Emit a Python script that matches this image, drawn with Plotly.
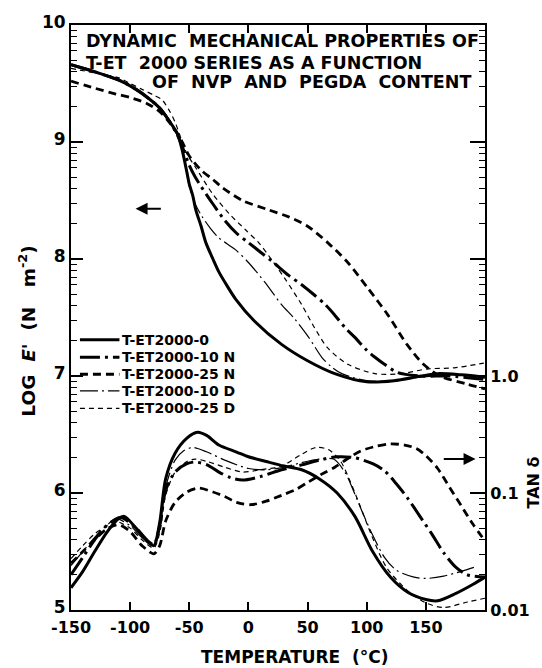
import math
import plotly.graph_objects as go

# ---------------- data ----------------
series_names = ["T-ET2000-0", "T-ET2000-10 N", "T-ET2000-25 N", "T-ET2000-10 D", "T-ET2000-25 D"]

# log E' (N m^-2) vs temperature (deg C)
e_t_0 = [-150, -130, -110, -95, -84, -75, -67, -60, -56, -52, -50, -47, -44.5, -40, -36, -30, -25, -18, -11, 5, 28, 50, 73, 100, 123, 146, 160, 180, 200]
e_v_0 = [9.66, 9.60, 9.53, 9.45, 9.37, 9.29, 9.18, 9.07, 8.93, 8.74, 8.64, 8.54, 8.42, 8.28, 8.14, 8.00, 7.89, 7.77, 7.66, 7.47, 7.27, 7.13, 7.02, 6.95, 6.96, 7.00, 7.02, 7.01, 6.99]

e_t_10n = [-150, -130, -110, -95, -84, -75, -67, -60, -57, -50, -45, -40, -30, -20, -10, 0, 10, 20, 34, 45, 56, 65, 73, 82, 90, 100, 107, 115, 126, 146, 170, 200]
e_v_10n = [9.66, 9.60, 9.53, 9.45, 9.37, 9.29, 9.18, 9.06, 8.99, 8.80, 8.70, 8.62, 8.47, 8.33, 8.22, 8.14, 8.06, 7.98, 7.86, 7.78, 7.69, 7.61, 7.52, 7.41, 7.33, 7.22, 7.16, 7.10, 7.03, 7.00, 7.00, 6.97]

e_t_25n = [-150, -130, -112, -100, -86, -75, -67, -60, -56, -50, -39, -30, -22, -5, 17, 34, 50, 67, 84, 101, 118, 134, 148, 162, 185, 200]
e_v_25n = [9.52, 9.46, 9.41, 9.38, 9.33, 9.26, 9.17, 9.07, 9.00, 8.88, 8.75, 8.68, 8.61, 8.50, 8.42, 8.36, 8.28, 8.14, 7.97, 7.75, 7.52, 7.27, 7.10, 7.00, 6.93, 6.89]

e_t_10d = [-150, -130, -110, -95, -84, -75, -67, -60, -57, -55, -50, -45, -39, -32, -25, -11, 0, 14, 28, 39, 51, 62, 70, 79, 100, 123, 146, 170, 200]
e_v_10d = [9.66, 9.60, 9.53, 9.45, 9.37, 9.29, 9.18, 9.06, 8.99, 8.90, 8.62, 8.47, 8.36, 8.26, 8.18, 8.08, 7.97, 7.80, 7.61, 7.49, 7.33, 7.16, 7.08, 7.02, 6.96, 6.96, 6.99, 7.01, 7.00]

e_t_25d = [-150, -130, -110, -100, -90, -80, -73, -67, -62, -57, -52, -44.5, -30.5, -16.5, -2.5, 8.6, 17, 31, 45, 56, 67, 84, 107, 129, 151, 174, 199]
e_v_25d = [9.63, 9.59, 9.55, 9.50, 9.45, 9.40, 9.36, 9.27, 9.17, 9.03, 8.90, 8.78, 8.56, 8.39, 8.25, 8.14, 8.03, 7.83, 7.61, 7.41, 7.24, 7.10, 7.02, 7.02, 7.06, 7.07, 7.11]

# tan delta vs temperature (deg C)
d_t_0 = [-150, -140, -130, -120, -110, -105, -95, -85, -80, -75, -70, -62, -52, -43, -35, -25, -10, 0, 15, 30, 45, 60, 75, 90, 105, 120, 135, 150, 160, 175, 190, 200]
d_v_0 = [0.0155, 0.0214, 0.0316, 0.0457, 0.0603, 0.0631, 0.0501, 0.0380, 0.0355, 0.0562, 0.132, 0.219, 0.295, 0.331, 0.309, 0.257, 0.224, 0.204, 0.186, 0.170, 0.158, 0.132, 0.100, 0.0631, 0.0316, 0.0191, 0.0141, 0.0123, 0.0120, 0.0138, 0.0166, 0.0191]

d_t_10n = [-150, -140, -130, -120, -108, -95, -85, -80, -75, -70, -62, -52, -45, -35, -25, -15, -5, 10, 28, 45, 60, 75, 90, 105, 115, 125, 135, 145, 155, 165, 175, 185, 200]
d_v_10n = [0.0200, 0.0282, 0.0398, 0.0525, 0.0617, 0.0501, 0.0389, 0.0363, 0.0525, 0.105, 0.151, 0.178, 0.184, 0.174, 0.151, 0.135, 0.129, 0.138, 0.158, 0.174, 0.191, 0.204, 0.200, 0.178, 0.155, 0.120, 0.0891, 0.0631, 0.0447, 0.0309, 0.0234, 0.0200, 0.0191]

d_t_25n = [-150, -140, -130, -120, -110, -100, -90, -80, -75, -70, -62, -52, -42, -30, -20, -10, 2, 15, 28, 40, 50, 62, 73, 85, 95, 108, 120, 132, 142, 150, 160, 170, 180, 190, 200]
d_v_25n = [0.0251, 0.0316, 0.0398, 0.0490, 0.0537, 0.0468, 0.0355, 0.0302, 0.0355, 0.0575, 0.0832, 0.102, 0.110, 0.102, 0.0933, 0.0832, 0.0794, 0.0851, 0.0955, 0.107, 0.123, 0.145, 0.166, 0.200, 0.229, 0.251, 0.263, 0.257, 0.240, 0.209, 0.162, 0.112, 0.0776, 0.0537, 0.0389]

d_t_10d = [-150, -140, -130, -120, -112, -100, -90, -80, -75, -70, -62, -55, -47, -35, -20, 0, 15, 30, 45, 60, 72, 82, 90, 97, 105, 115, 125, 140, 150, 165, 180, 192]
d_v_10d = [0.0240, 0.0316, 0.0417, 0.0525, 0.0603, 0.0525, 0.0417, 0.0363, 0.0501, 0.112, 0.191, 0.229, 0.245, 0.224, 0.191, 0.162, 0.158, 0.166, 0.182, 0.195, 0.195, 0.148, 0.0977, 0.0661, 0.0437, 0.0282, 0.0219, 0.0191, 0.0186, 0.0195, 0.0214, 0.0234]

d_t_25d = [-150, -140, -130, -120, -113, -100, -90, -80, -75, -70, -62, -52, -45, -35, -20, -5, 10, 28, 45, 57, 68, 78, 86, 94, 104, 117, 134, 150, 165, 185, 200]
d_v_25d = [0.0275, 0.0355, 0.0447, 0.0525, 0.0575, 0.0501, 0.0398, 0.0339, 0.0457, 0.0955, 0.151, 0.186, 0.195, 0.186, 0.166, 0.151, 0.158, 0.170, 0.214, 0.245, 0.234, 0.186, 0.126, 0.0794, 0.0437, 0.0229, 0.0148, 0.0115, 0.0105, 0.0117, 0.0126]

x_ticks = [-150, -100, -50, 0, 50, 100, 150]
x_tick_labels = ["-150", "-100", "-50", "0", "50", "100", "150"]
y_ticks = [5, 6, 7, 8, 9, 10]
y_tick_labels = ["5", "6", "7", "8", "9", "10"]
tan_ticks = [0.01, 0.1, 1, 10, 100, 1000]
tan_tick_labels = ["0.01", "0.1", "1.0", " ", " ", " "]

# ---------------- styles ----------------
styles = [
    dict(width=3.0, dash="solid"),
    dict(width=3.0, dash="20px,5px,3px,5px"),
    dict(width=2.8, dash="8px,5px"),
    dict(width=1.2, dash="18px,4px,2px,4px"),
    dict(width=1.2, dash="5px,4px"),
]

E_series = [(e_t_0, e_v_0), (e_t_10n, e_v_10n), (e_t_25n, e_v_25n), (e_t_10d, e_v_10d), (e_t_25d, e_v_25d)]
D_series = [(d_t_0, d_v_0), (d_t_10n, d_v_10n), (d_t_25n, d_v_25n), (d_t_10d, d_v_10d), (d_t_25d, d_v_25d)]

FONT = "DejaVu Sans"
fig = go.Figure()

for name, (t, v), st in zip(series_names, E_series, styles):
    fig.add_trace(go.Scatter(x=t, y=v, mode="lines", name=name, line_shape="spline",
                             line=dict(color="black", width=st["width"], dash=st["dash"], smoothing=0.8),
                             yaxis="y", showlegend=False))
for name, (t, v), st in zip(series_names, D_series, styles):
    fig.add_trace(go.Scatter(x=t, y=v, mode="lines", name=name + " tan δ", line_shape="spline",
                             line=dict(color="black", width=st["width"], dash=st["dash"], smoothing=0.8),
                             yaxis="y2", showlegend=False))

minor_left = [d + math.log10(k) for d in range(5, 10) for k in range(2, 10)]
minor_right = [k * 10 ** d for d in range(-2, 3) for k in range(2, 10)]

fig.update_layout(
    width=542, height=668,
    margin=dict(l=71, r=54, t=15, b=58),
    paper_bgcolor="white", plot_bgcolor="white",
    font=dict(family=FONT, color="black"),
    showlegend=False,
    xaxis=dict(range=[-150, 200], tickvals=x_ticks, ticktext=x_tick_labels,
               ticks="inside", ticklen=8, tickwidth=1.5, tickcolor="black",
               showline=True, linecolor="black", linewidth=2, mirror="ticks",
               showgrid=False, zeroline=False, ticklabelstandoff=2,
               tickfont=dict(family=FONT, size=16, color="black", weight="bold")),
    yaxis=dict(range=[5, 10], tickvals=y_ticks, ticktext=y_tick_labels,
               ticks="inside", ticklen=12, tickwidth=1.5, tickcolor="black",
               showline=True, linecolor="black", linewidth=2,
               showgrid=False, zeroline=False, ticklabelshift=-3,
               minor=dict(tickvals=minor_left, ticks="inside", ticklen=6, tickwidth=1.2, tickcolor="black", showgrid=False),
               tickfont=dict(family=FONT, size=17, color="black", weight="bold")),
    yaxis2=dict(type="log", range=[-2, 3], overlaying="y", side="right",
                tickvals=tan_ticks, ticktext=tan_tick_labels,
                ticks="inside", ticklen=15, tickwidth=1.5, tickcolor="black",
                showline=True, linecolor="black", linewidth=2,
                showgrid=False, zeroline=False,
                minor=dict(tickvals=minor_right, ticks="inside", ticklen=6, tickwidth=1.2, tickcolor="black", showgrid=False),
                tickfont=dict(family=FONT, size=16, color="black", weight="bold")),
)

# hand-drawn style legend (line sample + label)
leg_y = [0.4620, 0.4320, 0.4030, 0.3745, 0.3445]
for name, st, yy in zip(series_names, styles, leg_y):
    fig.add_shape(type="line", xref="paper", yref="paper", x0=0.0216, x1=0.117, y0=yy, y1=yy,
                  line=dict(color="black", width=st["width"], dash=st["dash"]))
    fig.add_annotation(text=name, xref="paper", yref="paper", x=0.118, y=yy,
                       xanchor="left", yanchor="middle", showarrow=False,
                       font=dict(family=FONT, size=14, color="black", weight="bold"))

title_font = dict(family=FONT, size=17.5, color="black", weight="bold")
fig.add_annotation(text="DYNAMIC  MECHANICAL PROPERTIES OF", xref="paper", yref="paper",
                   x=0.031, y=0.972, xanchor="left", yanchor="middle", showarrow=False, font=title_font)
fig.add_annotation(text="T-ET  2000 SERIES AS A FUNCTION", xref="paper", yref="paper",
                   x=0.031, y=0.935, xanchor="left", yanchor="middle", showarrow=False, font=title_font)
fig.add_annotation(text="OF  NVP  AND  PEGDA  CONTENT", xref="paper", yref="paper",
                   x=0.192, y=0.903, xanchor="left", yanchor="middle", showarrow=False, font=title_font)

fig.add_annotation(text="LOG  <i>E</i>'  (N   m<sup>-2</sup>)", xref="paper", yref="paper",
                   x=-0.1055, y=0.478, xanchor="center", yanchor="middle", textangle=-90, showarrow=False,
                   font=dict(family=FONT, size=18.5, color="black", weight="bold"))
fig.add_annotation(text="TAN δ", xref="paper", yref="paper",
                   x=1.116, y=0.218, xanchor="center", yanchor="middle", textangle=-90, showarrow=False,
                   font=dict(family=FONT, size=16, color="black", weight="bold"))
fig.add_annotation(text="TEMPERATURE  (°C)", xref="paper", yref="paper",
                   x=0.54, y=-0.0807, xanchor="center", yanchor="middle", showarrow=False,
                   font=dict(family=FONT, size=17, color="black", weight="bold"))

# direction arrows
fig.add_annotation(x=-95.4, y=8.43, ax=-71.1, ay=8.43, xref="x", yref="y", axref="x", ayref="y",
                   showarrow=True, arrowhead=2, arrowsize=1.2, arrowwidth=2, arrowcolor="black", text=" ")
fig.add_annotation(x=192, y=6.29, ax=162.2, ay=6.29, xref="x", yref="y", axref="x", ayref="y",
                   showarrow=True, arrowhead=2, arrowsize=1.2, arrowwidth=2, arrowcolor="black", text=" ")

fig.write_html("out.html")
